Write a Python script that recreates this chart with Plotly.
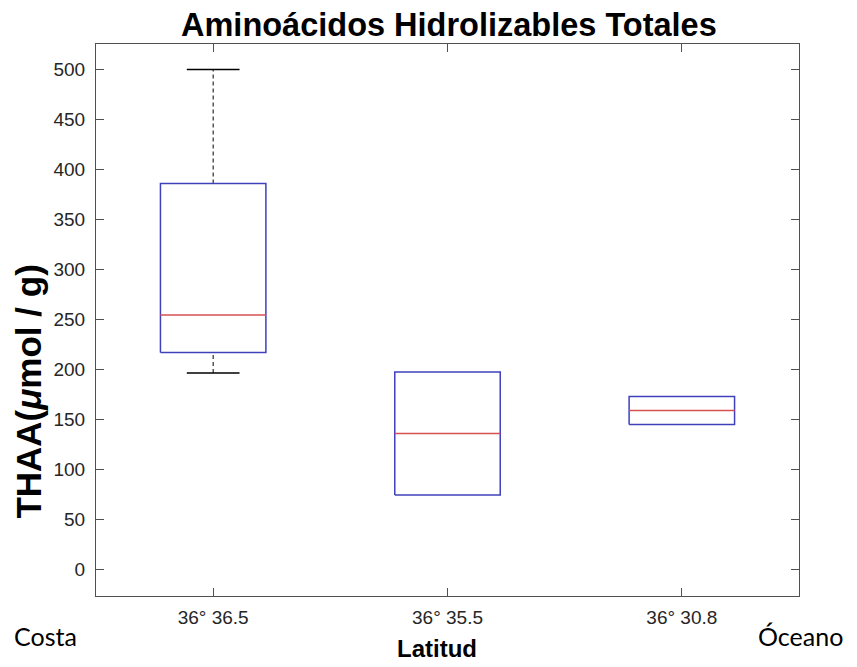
import plotly.graph_objects as go

# Sampling sites (latitude) and THAA box statistics (µmol / g)
categories = ["36° 36.5", "36° 35.5", "36° 30.8"]
lower_whisker = [196.5, 74.5, 145.0]
q1 = [217.0, 74.5, 145.0]
median = [254.5, 136.0, 159.0]
q3 = [386.0, 197.5, 173.0]
upper_whisker = [500.0, 197.5, 173.0]

y_ticks = [0, 50, 100, 150, 200, 250, 300, 350, 400, 450, 500]

positions = [1, 2, 3]
half_w = 0.225      # half box width
cap_half = 0.1125   # half whisker-cap width

box_x, box_y = [], []
med_x, med_y = [], []
wh_x, wh_y = [], []
cap_x, cap_y = [], []
for p, lo, a, m, b, hi in zip(positions, lower_whisker, q1, median, q3, upper_whisker):
    box_x += [p - half_w, p + half_w, p + half_w, p - half_w, p - half_w, None]
    box_y += [a, a, b, b, a, None]
    med_x += [p - half_w, p + half_w, None]
    med_y += [m, m, None]
    if hi > b:
        wh_x += [p, p, None]
        wh_y += [b, hi, None]
        cap_x += [p - cap_half, p + cap_half, None]
        cap_y += [hi, hi, None]
    if lo < a:
        wh_x += [p, p, None]
        wh_y += [lo, a, None]
        cap_x += [p - cap_half, p + cap_half, None]
        cap_y += [lo, lo, None]

fig = go.Figure()
fig.add_trace(go.Scatter(x=wh_x, y=wh_y, mode="lines",
                         line=dict(color="black", width=1, dash="4px,3px"),
                         hoverinfo="skip", showlegend=False))
fig.add_trace(go.Scatter(x=cap_x, y=cap_y, mode="lines",
                         line=dict(color="black", width=1.3),
                         hoverinfo="skip", showlegend=False))
fig.add_trace(go.Scatter(x=box_x, y=box_y, mode="lines",
                         line=dict(color="#4040bc", width=1.5),
                         hoverinfo="skip", showlegend=False))
fig.add_trace(go.Scatter(x=med_x, y=med_y, mode="lines",
                         line=dict(color="#d85050", width=1.3),
                         hoverinfo="skip", showlegend=False))

axis_color = "#505050"
sans = "Liberation Sans, Arial, sans-serif"
tick_font = dict(family=sans, size=19, color="#262626")

fig.update_layout(
    width=857, height=667,
    margin=dict(l=96, r=58, t=44, b=71),
    paper_bgcolor="white", plot_bgcolor="white",
    showlegend=False,
    xaxis=dict(range=[0.5, 3.5], tickvals=positions, ticktext=categories,
               showgrid=False, zeroline=False,
               showline=True, linecolor=axis_color, linewidth=1, mirror="ticks",
               ticks="inside", ticklen=8, tickcolor=axis_color,
               tickfont=tick_font, ticklabelstandoff=4),
    yaxis=dict(range=[-26.5, 525.5], tickvals=y_ticks,
               showgrid=False, zeroline=False,
               showline=True, linecolor=axis_color, linewidth=1, mirror="ticks",
               ticks="inside", ticklen=8, tickcolor=axis_color,
               tickfont=tick_font, ticklabelstandoff=6),
)

# Title, axis titles and end labels of the latitude transect
fig.add_annotation(text="<b>Aminoácidos Hidrolizables Totales</b>", xref="paper", yref="paper",
                   x=0.5015, y=1.0345, xanchor="center", yanchor="middle", showarrow=False,
                   font=dict(family=sans, size=32.5, color="black"))
fig.add_annotation(text="<b>Latitud</b>", xref="paper", yref="paper",
                   x=0.485, y=-0.095, xanchor="center", yanchor="middle", showarrow=False,
                   font=dict(family=sans, size=24, color="black"))
fig.add_annotation(text="<b>THAA(<i>μ</i>mol / g)</b>", xref="paper", yref="paper",
                   x=-0.0955, y=0.37, xanchor="center", yanchor="middle", textangle=-90,
                   showarrow=False,
                   font=dict(family=sans, size=35, color="black"))
fig.add_annotation(text="Costa", xref="paper", yref="paper",
                   x=-0.1195, y=-0.0725, xanchor="left", yanchor="middle", showarrow=False,
                   font=dict(family="Lato, sans-serif", size=25, color="black"))
fig.add_annotation(text="Óceano", xref="paper", yref="paper",
                   x=1.0654, y=-0.0725, xanchor="right", yanchor="middle", showarrow=False,
                   font=dict(family="Lato, sans-serif", size=25, color="black"))

fig.write_html("out.html")
